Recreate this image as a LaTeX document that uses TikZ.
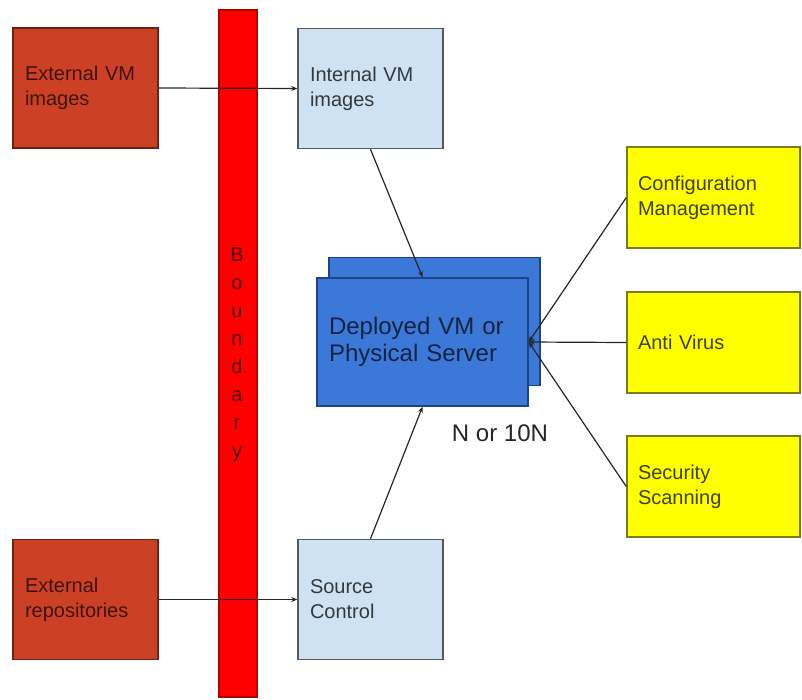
\documentclass[tikz,border=0pt]{standalone}
\usepackage{fontspec}
\setmainfont{Liberation Sans}
\usetikzlibrary{arrows.meta}

\definecolor{extred}{HTML}{CC4125}
\definecolor{extline}{HTML}{6B2416}
\definecolor{lightblue}{HTML}{CFE2F3}
\definecolor{deepblue}{HTML}{3C78D8}
\definecolor{deepline}{HTML}{1C4587}
\definecolor{boundred}{HTML}{FF0000}
\definecolor{boundline}{HTML}{B00000}
\definecolor{yel}{HTML}{FFFF00}
\definecolor{yelline}{HTML}{7A7A20}

\tikzset{
  box/.style={rectangle, line width=1.5pt, align=left, inner ysep=0pt,
    font=\fontsize{20}{25}\selectfont},
  extbox/.style={box, fill=extred, draw=extline, text=extred!30!black,
    text width=121pt, inner xsep=12pt, minimum height=120pt},
  intbox/.style={box, fill=lightblue, draw=black!65, text=lightblue!25!black,
    text width=121pt, inner xsep=12pt, minimum height=120pt},
  toolbox/.style={box, fill=yel, draw=yelline, text=yel!25!black,
    text width=151pt, inner xsep=11pt, minimum height=101pt},
  serverbox/.style={rectangle, line width=1.5pt, fill=deepblue, draw=deepline,
    minimum width=211pt, minimum height=128pt},
  link/.style={line width=1.2pt, draw=black!85, -{Stealth[length=6pt,width=5pt]}}
}

\begin{document}
\begin{tikzpicture}[x=1pt, y=-1pt]
  \useasboundingbox (0,0) rectangle (802,699);

  % trust boundary bar
  \node[rectangle, fill=boundred, draw=boundline, line width=1.5pt,
        minimum width=38pt, minimum height=687pt] (boundary) at (238,353.5) {};
  \node[align=center, text=red!30!black, font=\fontsize{20}{28}\selectfont]
        (boundlabel) at (237,355) {B\\o\\u\\n\\d\\a\\r\\y};

  % sources outside and inside the boundary
  \node[extbox] (extvm)   at (85.5,88)    {External VM\\images};
  \node[extbox] (extrepo) at (85.5,599.5) {External\\repositories};
  \node[intbox] (intvm)   at (370.5,88.5) {Internal VM\\images};
  \node[intbox] (src)     at (370.5,599.5) {Source\\Control};

  % deployed server (stacked to show many instances)
  \node[serverbox] (depback) at (434.5,321.5) {};
  \node[serverbox, align=left, text width=187pt, inner xsep=12pt,
        text=deepblue!30!black, font=\fontsize{24}{27}\selectfont]
        (dep) at (422.5,342) {Deployed VM or\\Physical Server};
  \node[font=\fontsize{24}{28}\selectfont, text=black!85] (count) at (500,433) {N or 10N};

  % supporting services
  \node[toolbox] (cfg)  at (713.5,197.5) {Configuration\\Management};
  \node[toolbox] (av)   at (713.5,342.5) {Anti Virus};
  \node[toolbox] (scan) at (713.5,486.5) {Security\\Scanning};

  % connectors
  \draw[link] (extvm.east) -- (intvm.west);
  \draw[link] (extrepo.east) -- (src.west);
  \draw[link] (intvm.south) -- (dep.north);
  \draw[link] (src.north) -- (dep.south);
  \draw[link] (cfg.west) -- (dep.east);
  \draw[link] (av.west) -- (dep.east);
  \draw[link] (scan.west) -- (dep.east);
\end{tikzpicture}
\end{document}
